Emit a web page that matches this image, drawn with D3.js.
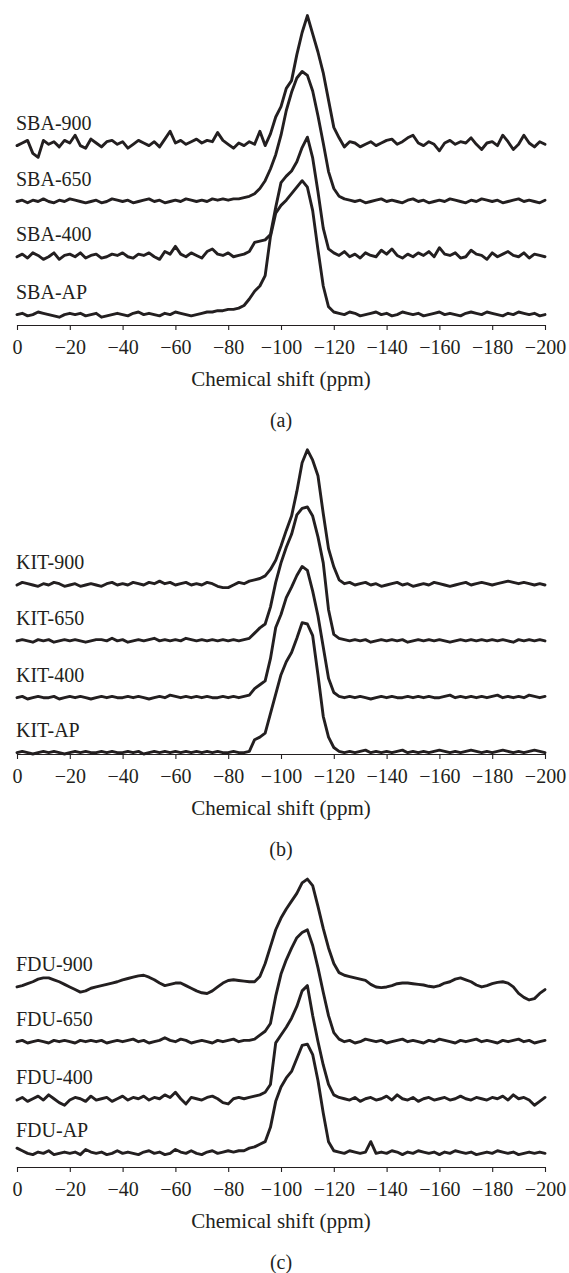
<!DOCTYPE html>
<html>
<head>
<meta charset="utf-8">
<script src="https://cdn.jsdelivr.net/npm/d3@7"></script>
<style>
  body { margin: 0; background: #fff; }
  text { font-family: "Liberation Serif", "Times New Roman", serif; fill: #231f20; }
</style>
</head>
<body>
<svg id="chart" width="569" height="1273"></svg>
<script>
// chemical shift grid (ppm), one value every 2 ppm from 0 to -200
var ppm = d3.range(0, -201, -2);
var xTicks = [0, -20, -40, -60, -80, -100, -120, -140, -160, -180, -200];

// (a) SBA-15 series, intensity in a.u. above each trace's own baseline
var sbaLabels = ["SBA-900", "SBA-650", "SBA-400", "SBA-AP"];
var sba900 = [
  0, 2, 4, -6, -9, 4, 1, 3, -1, 4,
  2, 8, 0, -2, 5, 2, -1, 3, 4, 1,
  3, -2, 1, 4, 2, 0, 3, -1, 5, 11,
  2, 4, 1, 3, 5, 2, 4, 3, 10, 4,
  1, -2, 2, 0, 3, 1, 11, 0, 9, 22,
  30, 44, 50, 70, 87, 100, 86, 72, 56, 35,
  14, 6, -1, 3, 2, -1, 1, 3, 0, 2,
  4, 5, 1, 3, 6, 8, 2, 0, 3, 1,
  -4, 2, 4, 1, 3, 2, 6, 1, -3, 2,
  3, 0, 8, 3, -3, 1, 8, 2, -1, 3,
  1];
var sba650 = [
  0, 1, -1, 1, 0, 2, 0, -1, 1, 0,
  2, 1, 0, -1, 0, 1, -1, 0, 2, 1,
  0, 1, -1, 0, 1, 2, 0, 1, -1, 0,
  1, 0, 2, 1, 0, 1, 0, 2, 1, 2,
  1, 2, 2, 3, 4, 6, 10, 16, 25, 36,
  51, 70, 84, 95, 100, 97, 85, 66, 45, 23,
  10, 4, 2, 1, 0, 1, -1, 0, 1, 2,
  0, 1, 0, -1, 1, 2, 0, 1, -1, 0,
  1, 0, 2, 1, 0, -1, 1, 0, 2, 1,
  0, 1, -1, 0, 1, 2, 0, 1, 0, -1,
  1];
var sba400 = [
  0, 2, -1, 3, 1, -2, 0, 3, -2, 1,
  2, 0, 3, -1, 1, 2, -1, 0, 2, 1,
  3, 0, -1, 2, 1, 3, 0, -2, 4, 2,
  8, 2, 0, 3, 1, -1, 4, 6, 2, 1,
  3, 0, 1, 2, 4, 11, 12, 13, 17, 38,
  57, 62, 66, 73, 84, 92, 76, 50, 22, 6,
  3, 1, 4, 0, 2, -1, 3, 1, 0, 5,
  2, 6, 1, -1, 2, 0, 3, 1, 4, 0,
  7, 2, 1, 3, -1, 0, 5, 2, 1, -2,
  3, 0, 2, 4, 1, 0, 3, -1, 2, 1,
  0];
var sbaAP = [
  0, 1, -1, 0, 2, 1, 0, -1, -2, 0,
  1, 0, 1, -1, 0, 1, -2, -1, 0, 1,
  0, -1, 1, 2, 0, 1, 0, -1, 1, 0,
  2, 1, 0, -1, 0, 1, 2, 2, 3, 3,
  4, 4, 5, 7, 12, 18, 22, 30, 60, 78,
  84, 88, 93, 98, 103, 98, 80, 50, 22, 6,
  2, 1, 0, 2, 1, -1, 0, 1, 2, 0,
  1, -1, 0, 2, 1, 0, 1, -1, 0, 1,
  2, 0, 1, 0, -1, 1, 2, 1, 0, 2,
  1, 0, -1, 1, 0, 2, 1, 0, 1, -1,
  0];
var sbaOffsets = [138, 95, 52.5, 8];

// (b) KIT-6 series
var kitLabels = ["KIT-900", "KIT-650", "KIT-400", "KIT-AP"];
var kit900 = [
  0, 2, 1, 0, -1, 1, 0, 2, 1, -1,
  0, 1, -1, 0, 1, 0, -1, 1, 2, 0,
  1, 0, 2, 1, 0, 2, 1, 3, 1, 2,
  0, 1, 2, 0, 1, 0, 2, 1, -1, -2,
  -2, 0, 2, 1, 3, 4, 5, 7, 12, 19,
  30, 42, 53, 72, 94, 104, 96, 84, 55, 28,
  14, 4, 1, 2, 0, 1, 2, 0, 1, -1,
  0, 1, 2, 0, 1, -1, 0, 1, 0, 2,
  1, 0, -1, 0, 1, 2, 0, 1, 2, 1,
  0, 1, 2, 3, 2, 1, 2, 1, 0, 1,
  0];
var kit650 = [
  0, 1, 0, -1, 1, 0, 1, -1, 0, 1,
  0, 1, 0, -1, 0, 1, 1, 0, 2, 0,
  1, -1, 0, 1, 0, 1, 2, 0, 1, 0,
  1, 0, 2, 1, 0, 1, 0, 1, 0, 1,
  0, 1, 0, 1, 2, 6, 10, 13, 26, 45,
  60, 72, 82, 97, 102, 103, 96, 80, 60, 24,
  5, 2, 1, 0, 1, 0, 1, -1, 0, 1,
  0, 1, 0, 1, -1, 0, 1, 0, 1, 0,
  1, 0, -1, 0, 1, 0, 1, 0, 1, 0,
  1, 0, 1, 0, -1, 1, 0, 1, 0, 1,
  0];
var kit400 = [
  0, 1, -1, 0, 1, 0, 0, 1, -1, 0,
  1, 0, 1, 0, -1, 0, 1, 0, 1, 0,
  0, 1, 0, 1, 0, -1, 0, 1, 0, 2,
  1, 0, 1, 0, 1, 0, 1, 0, 0, 1,
  0, 1, 0, 1, 2, 7, 10, 13, 30, 54,
  64, 77, 85, 94, 101, 98, 82, 63, 39, 15,
  4, 1, 0, 1, 0, 1, 0, -1, 0, 1,
  0, 1, 0, 0, 1, 0, 1, 0, 1, 0,
  0, 1, 2, 0, 1, 0, 1, 0, 1, 0,
  1, 2, 0, 1, 0, 1, 0, 2, 1, 0,
  1];
var kitAP = [
  0, 1, 0, -1, 0, 1, 0, 1, 0, -1,
  0, 1, 0, 1, 0, 0, 1, 0, 1, 0,
  0, 1, 0, 1, -1, 0, 1, 0, 1, 0,
  1, 0, 1, 0, 1, 0, 1, 0, 1, 0,
  0, 1, 0, 0, 1, 10, 12, 15, 30, 45,
  60, 70, 77, 88, 100, 99, 90, 60, 28, 12,
  4, 1, 0, 1, 0, 1, 2, 0, 1, 0,
  1, 0, 1, 2, 0, 1, 0, 1, 0, 1,
  2, 1, 0, 1, 0, 1, 2, 1, 0, 1,
  0, 1, 2, 1, 0, 1, 0, 1, 2, 1,
  0];
var kitOffsets = [130, 87, 43.3, 1];

// (c) FDU-12 series
var fduLabels = ["FDU-900", "FDU-650", "FDU-400", "FDU-AP"];
var fdu900 = [
  0, 1, 2.5, 4, 6, 7, 7, 5.5, 4, 2,
  0, -2, -4, -3, -1, 0, 1, 2, 3, 4,
  5.5, 6.5, 7.5, 8.5, 9, 7.5, 5.5, 3, 1, 2,
  3, 3, 1, -1, -3, -4.5, -5, -3, 0, 3,
  5, 5.5, 5, 4.5, 4, 4, 8, 18, 31, 44,
  53, 60, 66, 72, 80, 83, 78, 62, 45, 30,
  18, 11, 9, 8, 7, 6, 5, 2, 0, -0.5,
  0, 1, 2.5, 3, 3, 2.5, 2, 1.5, 0.5, 0,
  1, 3, 4, 6, 7, 5.5, 4, 1.5, 0, 1,
  2.5, 3.5, 4, 3, 0, -5, -8, -10, -9, -5,
  -2];
var fdu650 = [
  0, 1, -1, 0, 1, 0, -1, 1, 0, 1,
  0, -1, 1, 0, 1, 0, 1, -1, 0, 1,
  0, 1, 2, 0, 1, -1, 0, 1, 3, 1,
  0, 2, 1, -1, 0, 1, 0, -1, 1, 0,
  1, 2, 0, 1, 1, 2, 5, 8, 14, 35,
  52, 63, 72, 80, 84, 86, 74, 57, 38, 20,
  7, 2, 0, 1, -1, 0, 2, 1, 0, 1,
  -1, 0, 1, 2, 0, 1, 0, -1, 1, 0,
  2, 1, 0, -1, 1, 0, 1, 2, 0, 1,
  0, -1, 1, 0, 1, 2, 0, 1, -1, 0,
  1];
var fdu400 = [
  0, 2, -1, 1, 3, 0, 4, 1, -2, -4,
  0, 2, 1, -1, 3, 0, 1, 2, -1, 1,
  3, 0, 2, 1, 3, 0, 2, 1, 4, 2,
  6, 1, -3, 2, 1, 0, 2, 3, 1, -2,
  -3, 1, 2, 1, 2, 3, 4, 6, 12, 44,
  50, 56, 63, 72, 84, 88, 65, 45, 27, 12,
  4, 2, 1, 0, 2, -1, 1, 2, 0, 1,
  3, 0, 4, 1, 0, 2, -1, 1, 2, 0,
  1, 2, 0, 1, 3, 1, 0, 2, 1, 0,
  2, 1, 3, 0, 4, 1, 2, 0, -4, -1,
  2];
var fduAP = [
  4, 2, 0, -1, 1, 0, 2, -1, 0, 1,
  0, 1, -1, 3, 1, 0, 1, -1, 0, 2,
  0, 1, 0, -1, 1, 2, 0, 1, -1, 0,
  3, 1, 0, 2, 0, -1, 1, 2, 0, 1,
  2, 1, 2, 2, 4, 5, 7, 9, 20, 40,
  51, 58, 63, 73, 83, 84, 76, 56, 31, 9,
  2, 1, 0, 2, 1, 0, 1, 9, 0, 1,
  0, 2, 1, -1, 1, 0, 2, 1, 0, 1,
  -1, 1, 0, 2, 1, 0, 1, -1, 0, 1,
  0, 2, 1, 0, 1, -1, 0, 1, 0, 1,
  0];
var fduOffsets = [138.5, 96.4, 51.5, 10.5];

var panelNames = ["(a)", "(b)", "(c)"];

var svg = d3.select("#chart");
var ink = "#231f20";

var x = d3.scaleLinear().domain([0, -200]).range([17, 545]);

// where each panel's x axis sits
var panels = [
  { axisY: 325, labels: sbaLabels, series: [sba900, sba650, sba400, sbaAP], offsets: sbaOffsets },
  { axisY: 754, labels: kitLabels, series: [kit900, kit650, kit400, kitAP], offsets: kitOffsets },
  { axisY: 1167, labels: fduLabels, series: [fdu900, fdu650, fdu400, fduAP], offsets: fduOffsets }
];

panels.forEach(function (p, k) {
  // 1.3 px per intensity unit
  var y = d3.scaleLinear().domain([0, 250]).range([p.axisY, p.axisY - 325]);
  var g = svg.append("g");

  // x axis
  var ax = g.append("g")
    .attr("transform", "translate(0," + p.axisY + ")")
    .call(d3.axisBottom(x)
      .tickValues(xTicks)
      .tickSize(5)
      .tickSizeOuter(0)
      .tickPadding(10));
  ax.selectAll("path, line").attr("stroke", ink).attr("stroke-width", 1.1);
  ax.selectAll("text")
    .attr("font-family", "Liberation Serif, Times New Roman, serif")
    .attr("font-size", "20px")
    .attr("fill", ink);

  g.append("text")
    .attr("x", (x.range()[0] + x.range()[1]) / 2)
    .attr("y", p.axisY + 61)
    .attr("text-anchor", "middle")
    .attr("font-size", "21px")
    .text("Chemical shift (ppm)");

  g.append("text")
    .attr("x", (x.range()[0] + x.range()[1]) / 2)
    .attr("y", p.axisY + 102)
    .attr("text-anchor", "middle")
    .attr("font-size", "20px")
    .text(panelNames[k]);

  // spectra, stacked with their offsets
  p.series.forEach(function (vals, j) {
    var off = p.offsets[j];
    var line = d3.line()
      .x(function (d, i) { return x(ppm[i]); })
      .y(function (d) { return y(d + off); });

    g.append("path")
      .datum(vals)
      .attr("d", line)
      .attr("fill", "none")
      .attr("stroke", ink)
      .attr("stroke-width", 2.9)
      .attr("stroke-linejoin", "round")
      .attr("stroke-linecap", "round");

    g.append("text")
      .attr("x", 16)
      .attr("y", y(off) - 16)
      .attr("font-size", "20px")
      .text(p.labels[j]);
  });
});
</script>
</body>
</html>
